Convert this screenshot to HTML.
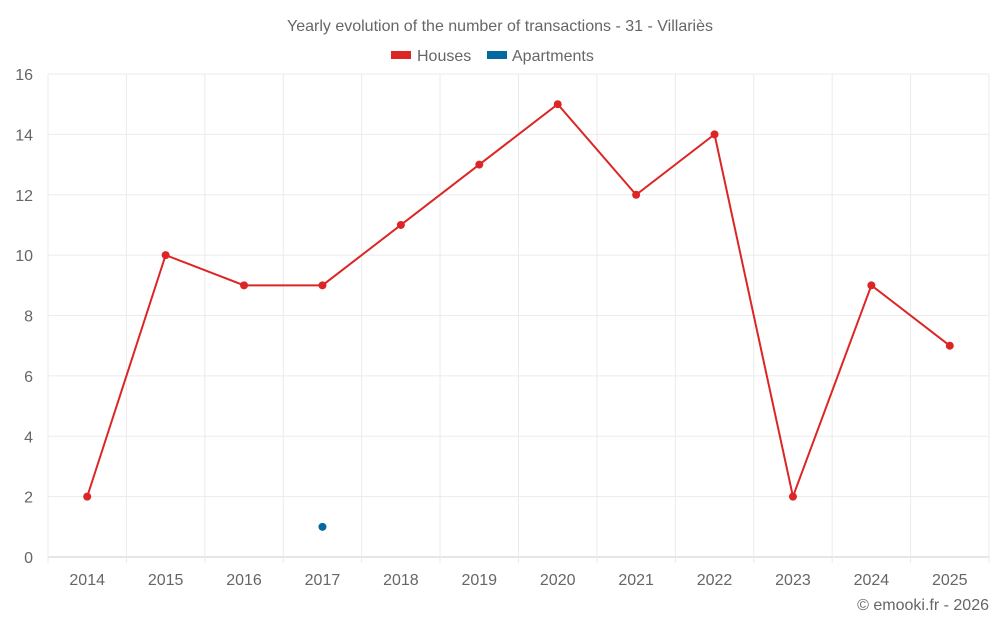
<!DOCTYPE html>
<html><head><meta charset="utf-8"><style>
body{margin:0;background:#fff;font-family:"Liberation Sans",sans-serif;}
svg text{font-family:"Liberation Sans",sans-serif;fill:#666;}
</style></head><body>
<svg id="chart" width="1000" height="625" xmlns="http://www.w3.org/2000/svg">
<text x="500" y="31" text-anchor="middle" font-size="16">Yearly evolution of the number of transactions - 31 - Villariès</text>
<g>
<g><rect x="391" y="51" width="20" height="8" fill="#dc2626"/><text x="417" y="61" font-size="16">Houses</text></g>
<g><rect x="487" y="51" width="20" height="8" fill="#0369a1"/><text x="512" y="61" font-size="16">Apartments</text></g>
</g>
<g id="grid"></g>
<g id="axes"></g>
<g id="series"></g>
<text x="989" y="610" text-anchor="end" font-size="16">© emooki.fr - 2026</text>
</svg>
<script>
const years=["2014","2015","2016","2017","2018","2019","2020","2021","2022","2023","2024","2025"];
const houses=[2,10,9,9,11,13,15,12,14,2,9,7];
const apartments=[null,null,null,1,null,null,null,null,null,null,null,null];
const yTicks=[0,2,4,6,8,10,12,14,16];
const L=48,R=989,T=74,B=557,yMax=16;
const bw=(R-L)/years.length;
const x=i=>L+bw*(i+0.5);
const y=v=>B-(B-T)*v/yMax;
const NS="http://www.w3.org/2000/svg";
function mk(tag,attrs,parent){const e=document.createElementNS(NS,tag);for(const k in attrs)e.setAttribute(k,attrs[k]);parent.appendChild(e);return e;}
const grid=document.getElementById('grid'),axes=document.getElementById('axes'),series=document.getElementById('series');
yTicks.forEach(t=>{
 const g=mk('line',{x1:L,x2:R,y1:y(t),y2:y(t),stroke:t===0?'#ccc':'#ebebeb','stroke-width':1},grid);
 
 
 const tx=mk('text',{x:33,y:y(t)+6,'text-anchor':'end','font-size':16},axes);
 tx.textContent=t;
 
 
});
for(let i=0;i<=years.length;i++){
 const g=mk('line',{x1:L+bw*i,x2:L+bw*i,y1:T,y2:B+(i<years.length+1?6:0),stroke:'#ebebeb'},grid);
 
 
}
years.forEach((yr,i)=>{
 const tx=mk('text',{x:x(i),y:585,'text-anchor':'middle','font-size':16},axes);
 tx.textContent=yr;
 
 
});
const pl=mk('polyline',{points:houses.map((v,i)=>x(i)+','+y(v)).join(' '),fill:'none',stroke:'#dc2626','stroke-width':2},series);


houses.forEach((v,i)=>{
 const c=mk('circle',{cx:x(i),cy:y(v),r:4,fill:'#dc2626'},series);
 
 
});
apartments.forEach((v,i)=>{
 if(v===null)return;
 const c=mk('circle',{cx:x(i),cy:y(v),r:4,fill:'#0369a1'},series);
 
 
});
</script>
</body></html>
